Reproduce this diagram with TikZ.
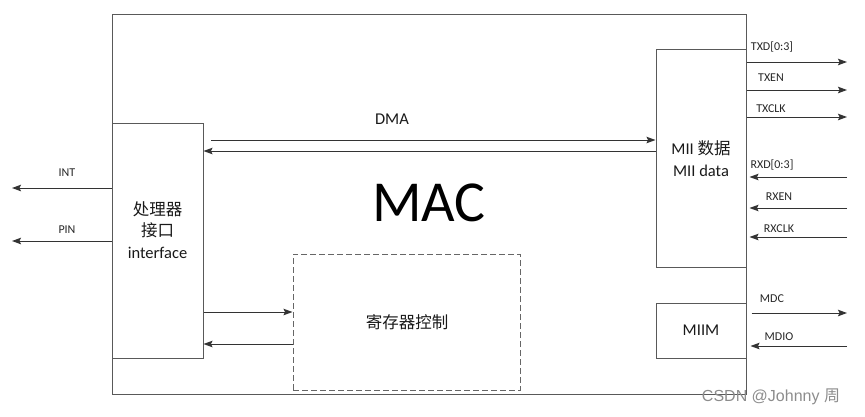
\documentclass[tikz,border=0pt]{standalone}
\usepackage{fontspec}
\setmainfont{Carlito}
\newfontfamily\cjk{Noto Sans CJK SC}
\newfontfamily\wmfont{Liberation Sans}
\usetikzlibrary{arrows, arrows.meta, positioning}

\tikzset{
	kasten/.style={draw=black!65, line width=1pt, inner sep=0pt},
	pfeil/.style={draw=black!80, line width=1pt},
	sig/.style={font=\fontsize{12}{14}\selectfont, inner sep=0pt, text=black!85},
	txt/.style={font=\fontsize{16.5}{21.5}\selectfont, align=center, inner sep=0pt, text=black!90}
}

\begin{document}
\begin{tikzpicture}[>={Stealth[length=9pt, width=6.5pt, inset=1.5pt]}, x=1pt, y=-1pt]
		\useasboundingbox (0,0) rectangle (865,416);
		
		% Kaesten
		\node[kasten, minimum width=634, minimum height=380] (mac) at (429,204) {};
		\node[kasten, minimum width=91, minimum height=235] (cpu) at (157.5,240.5) {};
		\node[kasten, minimum width=90, minimum height=218] (mii) at (701,158) {};
		\node[kasten, minimum width=90, minimum height=55] (miim) at (701,330.5) {};
		\node[kasten, draw=black!60, dash pattern=on 6pt off 3pt, minimum width=227, minimum height=136] (reg) at (406.5,322) {};
		
		% Beschriftungen
		\node[font=\fontsize{58}{60}\selectfont, inner sep=0pt] (mactxt) at (429,203) {MAC};
		\node[txt] (cputxt) at (157.5,230) {{\cjk 处理器}\\{\cjk 接口}\\interface};
		\node[txt] (miitxt) at (701,158.5) {MII {\cjk 数据}\\MII data};
		\node[txt] (miimtxt) at (miim.center) {MIIM};
		\node[txt] (regtxt) at (407,322) {\cjk 寄存器控制};
		\node[txt] (dmatxt) at (392,119) {DMA};
		
		% DMA
		\coordinate (dma) at (211,140);
		\draw[pfeil,->] (dma) -- (dma -| mii.west);
		\draw[pfeil,->] (mii.west |- 0,151) -- (cpu.east |- 0,151);
		
		% Register
		\draw[pfeil,->] (cpu.east |- 0,312) -- (reg.west |- 0,312);
		\draw[pfeil,->] (reg.west |- 0,344) -- (cpu.east |- 0,344);
		
		% Links
		\coordinate (int) at (12,188);
		\coordinate (pin) at (12,241);
		\draw[pfeil,->] (cpu.west |- int) -- (int);
		\draw[pfeil,->] (cpu.west |- pin) -- (pin);
		\node[sig] (intl) at (67,173) {INT};
		\node[sig] (pinl) at (67,230) {PIN};
		
		% MII Signale
		\coordinate (txd) at (847,62);
		\coordinate (txen) at (847,90);
		\coordinate (txclk) at (847,117);
		\coordinate (rxd) at (847,177);
		\coordinate (rxen) at (847,208);
		\coordinate (rxclk) at (847,237);
		\draw[pfeil,->] (txd -| mii.east) -- (txd);
		\draw[pfeil,->] (txen -| mii.east) -- (txen);
		\draw[pfeil,->] (txclk -| mii.east) -- (txclk);
		\draw[pfeil,->] (rxd) -- ([xshift=3]rxd -| mii.east);
		\draw[pfeil,->] (rxen) -- ([xshift=3]rxen -| mii.east);
		\draw[pfeil,->] (rxclk) -- ([xshift=3]rxclk -| mii.east);
		\node[sig] (txdl) at (772,47) {TXD[0:3]};
		\node[sig] (txenl) at (771,78) {TXEN};
		\node[sig] (txclkl) at (771,109) {TXCLK};
		\node[sig] (rxdl) at (772,165) {RXD[0:3]};
		\node[sig] (rxenl) at (779,197) {RXEN};
		\node[sig] (rxclkl) at (779,229) {RXCLK};
		
		% MIIM Signale
		\coordinate (mdc) at (847,313);
		\coordinate (mdio) at (847,346);
		\draw[pfeil,->] ([xshift=5]mdc -| miim.east) -- (mdc);
		\draw[pfeil,->] (mdio) -- ([xshift=4]mdio -| miim.east);
		\node[sig] (mdcl) at (772,299) {MDC};
		\node[sig] (mdiol) at (779,337) {MDIO};
		
		% Wasserzeichen
		\node[font=\wmfont\fontsize{16}{18}\selectfont, text=black!45, inner sep=0pt] (wm) at (771,397) {CSDN @Johnny {\cjk 周}};
	\end{tikzpicture}
\end{document}
